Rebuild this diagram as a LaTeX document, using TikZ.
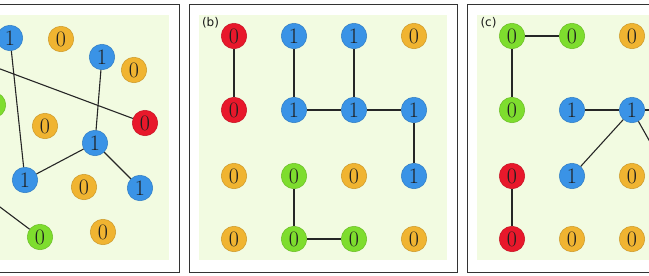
\documentclass[tikz,border=0pt]{standalone}
\usepackage{fontspec}
\newfontfamily\labelfont{DejaVu Sans}
\definecolor{nred}{HTML}{E8182B}
\definecolor{nblue}{HTML}{3A93E6}
\definecolor{norange}{HTML}{F0B431}
\definecolor{ngreen}{HTML}{7EDD2E}
\definecolor{bgc}{HTML}{F2FBE1}
\definecolor{framec}{HTML}{333333}
\tikzset{
  nd/.style={circle, minimum size=25.5pt, inner sep=0pt, line width=0.5pt,
    font=\fontsize{22}{22}\selectfont, text=black!88},
  redn/.style={nd, fill=nred, draw=nred!85!black},
  bluen/.style={nd, fill=nblue, draw=nblue!85!black},
  orangen/.style={nd, fill=norange, draw=norange!85!black},
  greenn/.style={nd, fill=ngreen, draw=ngreen!85!black},
  conn/.style={draw=black!85, line width=1.1pt},
  panelframe/.style={draw=framec, line width=0.9pt, fill=white},
  panelbg/.style={fill=bgc},
  plabel/.style={font=\labelfont\fontsize{12}{12}\selectfont, text=black!90, inner sep=0pt}
}
\begin{document}
\begin{tikzpicture}[x=1pt,y=-1pt]
\useasboundingbox (0,0) rectangle (649,276);
\clip (0,0) rectangle (649,276);
% panel frames
\draw[panelframe] (-89,4) rectangle (179,272);
\fill[panelbg] (-79,15) rectangle (169,260);
\draw[panelframe] (189,4) rectangle (457,272);
\fill[panelbg] (199,15) rectangle (447,260);
\draw[panelframe] (467,4) rectangle (735,272);
\fill[panelbg] (477,15) rectangle (725,260);

% ---------- panel (a)
\node[bluen] (a1) at (10,38) {1};
\node[orangen] (a2) at (61,39) {0};
\node[bluen] (a3) at (102,57) {1};
\node[orangen] (a4) at (134,70) {0};
\node[greenn] (a5) at (-7,105) {};
\node[redn] (a6) at (145,123) {0};
\node[orangen] (a7) at (45,126) {0};
\node[bluen] (a8) at (95,143) {1};
\node[bluen] (a9) at (25,180) {1};
\node[orangen] (a10) at (84,187) {0};
\node[bluen] (a11) at (140,188) {1};
\node[greenn] (a12) at (40,237) {0};
\node[orangen] (a13) at (103,232) {0};
\coordinate (aL1) at (-40,54);
\coordinate (aL2) at (-30,184.5);
\draw[conn] (aL1) -- (a6);
\draw[conn] (a1) -- (a9);
\draw[conn] (a3) -- (a8);
\draw[conn] (a8) -- (a9);
\draw[conn] (a8) -- (a11);
\draw[conn] (aL2) -- (a12);

% ---------- panel (b)
\node[plabel] (lb) at (210.5,22.5) {(b)};
\node[redn]    (b11) at (234,36) {0};
\node[bluen]   (b12) at (294,36) {1};
\node[bluen]   (b13) at (354,36) {1};
\node[orangen] (b14) at (414,36) {0};
\node[redn]    (b21) at (234,110) {0};
\node[bluen]   (b22) at (294,110) {1};
\node[bluen]   (b23) at (354,110) {1};
\node[bluen]   (b24) at (414,110) {1};
\node[orangen] (b31) at (234,176) {0};
\node[greenn]  (b32) at (294,176) {0};
\node[orangen] (b33) at (354,176) {0};
\node[bluen]   (b34) at (414,176) {1};
\node[orangen] (b41) at (234,239) {0};
\node[greenn]  (b42) at (294,239) {0};
\node[greenn]  (b43) at (354,239) {0};
\node[orangen] (b44) at (414,239) {0};
\draw[conn] (b11) -- (b21);
\draw[conn] (b12) -- (b22);
\draw[conn] (b13) -- (b23);
\draw[conn] (b22) -- (b23);
\draw[conn] (b23) -- (b24);
\draw[conn] (b24) -- (b34);
\draw[conn] (b32) -- (b42);
\draw[conn] (b42) -- (b43);

% ---------- panel (c)
\node[plabel] (lc) at (488.5,22.5) {(c)};
\node[greenn]  (c11) at (512,36) {0};
\node[greenn]  (c12) at (572,36) {0};
\node[orangen] (c13) at (632,36) {0};
\node[greenn]  (c21) at (512,110) {0};
\node[bluen]   (c22) at (572,110) {1};
\node[bluen]   (c23) at (632,110) {1};
\node[redn]    (c31) at (512,176) {0};
\node[bluen]   (c32) at (572,176) {1};
\node[orangen] (c33) at (632,176) {0};
\node[redn]    (c41) at (512,239) {0};
\node[orangen] (c42) at (572,239) {0};
\node[orangen] (c43) at (632,239) {0};
\coordinate (cR1) at (700,110);
\coordinate (cR2) at (680,195);
\draw[conn] (c11) -- (c12);
\draw[conn] (c11) -- (c21);
\draw[conn] (c22) -- (c23);
\draw[conn] (c23) -- (c32);
\draw[conn] (c23) -- (cR1);
\draw[conn] (c23) -- (cR2);
\draw[conn] (c31) -- (c41);
\end{tikzpicture}
\end{document}
